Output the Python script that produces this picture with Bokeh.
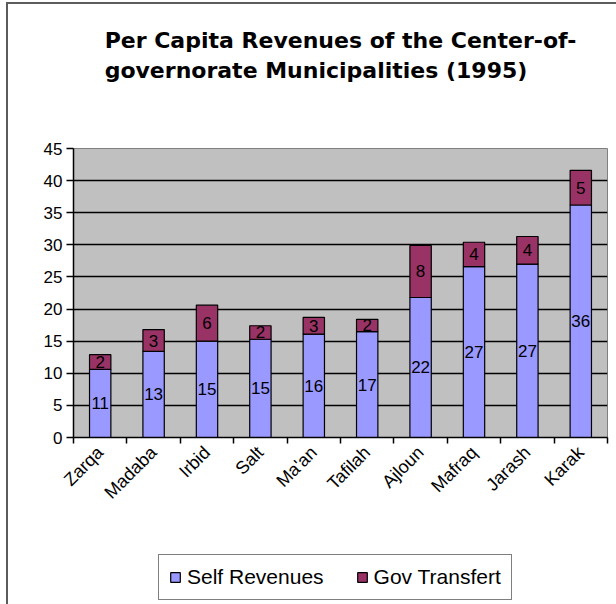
import math
from bokeh.plotting import figure
from bokeh.layouts import column
from bokeh.models import (FixedTicker, Title, Legend, LegendItem, ColumnDataSource)
from bokeh.core.properties import value
from bokeh.embed import file_html
from bokeh.resources import INLINE

categories = ["Zarqa", "Madaba", "Irbid", "Salt", "Ma'an", "Tafilah", "Ajloun", "Mafraq", "Jarash", "Karak"]
self_revenues = [10.6, 13.4, 15.0, 15.3, 16.1, 16.5, 21.8, 26.6, 27.0, 36.2]
gov_transfert = [2.3, 3.4, 5.6, 2.1, 2.6, 1.9, 8.1, 3.8, 4.3, 5.4]
y_ticks = [0, 5, 10, 15, 20, 25, 30, 35, 40, 45]
title_text = "Per Capita Revenues of the Center-of-\ngovernorate Municipalities (1995)"
series_names = ["Self Revenues", "Gov Transfert"]

SELF_COLOR = "#9999FF"
GOV_COLOR = "#993366"

n = len(categories)
xc = [i + 0.5 for i in range(n)]
totals = [a + b for a, b in zip(self_revenues, gov_transfert)]

src = ColumnDataSource(dict(
    x=xc,
    self_top=self_revenues,
    total=totals,
    self_mid=[v / 2 for v in self_revenues],
    gov_mid=[a + b / 2 for a, b in zip(self_revenues, gov_transfert)],
    self_lbl=[str(int(v + 0.5)) for v in self_revenues],
    gov_lbl=[str(int(v + 0.5)) for v in gov_transfert],
))

p = figure(width=608, height=511, x_range=(0, n), y_range=(0, 45),
           output_backend="svg", toolbar_location=None, title=None,
           min_border_left=65, min_border_right=9, min_border_top=144,
           min_border_bottom=78)

p.background_fill_color = "#C0C0C0"
p.border_fill_color = "white"
p.outline_line_color = "#808080"
p.outline_line_width = 1

# empty spacer between title and plot area, then the two-line title
spacer = Title(text=" ", text_font_size="1px", standoff=58)
p.add_layout(spacer, "above")
t = Title(text=title_text, align="center", text_font="DejaVu Sans",
          text_font_style="bold", text_font_size="22px", text_color="black",
          text_line_height=1.2, vertical_align="bottom", standoff=10)
p.add_layout(t, "above")

# bars
r_self = p.vbar(x="x", bottom=0, top="self_top", width=0.4, source=src,
                fill_color=SELF_COLOR, line_color="black", line_width=1.2)
r_gov = p.vbar(x="x", bottom="self_top", top="total", width=0.4, source=src,
               fill_color=GOV_COLOR, line_color="black", line_width=1.2)

# data labels
for ycol, tcol in (("self_mid", "self_lbl"), ("gov_mid", "gov_lbl")):
    p.text(x="x", y=ycol, text=tcol, source=src, text_align="center",
           text_baseline="middle", text_font=value("Liberation Sans"),
           text_font_size="17px", text_color="black")

# grid
p.xgrid.visible = False
p.ygrid.ticker = FixedTicker(ticks=y_ticks[1:-1])
p.ygrid.grid_line_color = "black"
p.ygrid.grid_line_width = 1.5

# y axis
p.yaxis.ticker = FixedTicker(ticks=y_ticks)
p.yaxis.axis_line_color = "black"
p.yaxis.axis_line_width = 1.5
p.yaxis.major_tick_in = 0
p.yaxis.major_tick_out = 7
p.yaxis.major_tick_line_width = 1.5
p.yaxis.major_tick_line_color = "black"
p.yaxis.minor_tick_line_color = None
p.yaxis.major_label_text_font = "Liberation Sans"
p.yaxis.major_label_text_font_size = "17px"
p.yaxis.major_label_text_color = "black"
p.yaxis.major_label_standoff = 4

# x axis: labels at centers, ticks at boundaries
p.xaxis.ticker = FixedTicker(ticks=xc, minor_ticks=list(range(n + 1)))
p.xaxis.major_label_overrides = {x: c for x, c in zip(xc, categories)}
p.xaxis.major_label_orientation = math.pi / 4
p.xaxis.major_tick_in = 0
p.xaxis.major_tick_out = 0
p.xaxis.minor_tick_in = 0
p.xaxis.minor_tick_out = 6
p.xaxis.minor_tick_line_width = 1.5
p.xaxis.minor_tick_line_color = "black"
p.xaxis.axis_line_color = "black"
p.xaxis.axis_line_width = 1.5
p.xaxis.major_label_text_font = "Liberation Sans"
p.xaxis.major_label_text_font_size = "18px"
p.xaxis.major_label_text_color = "black"
p.xaxis.major_label_standoff = 6

# legend strip (separate plot area below the chart); its key glyphs reuse the
# bar data but lie outside this strip's visible range
q = figure(width=608, height=89, x_range=(100, 101), y_range=(100, 101),
           output_backend="svg", toolbar_location=None, title=None,
           x_axis_location=None, y_axis_location=None, min_border=0)
q.grid.visible = False
q.outline_line_color = None
q.background_fill_color = "white"
q.border_fill_color = "white"
k_self = q.vbar(x="x", bottom=0, top="self_top", width=0.4, source=src,
                fill_color=SELF_COLOR, line_color="black", line_width=1.2)
k_gov = q.vbar(x="x", bottom="self_top", top="total", width=0.4, source=src,
               fill_color=GOV_COLOR, line_color="black", line_width=1.2)
legend = Legend(items=[LegendItem(label=series_names[0], renderers=[k_self], index=0),
                       LegendItem(label=series_names[1], renderers=[k_gov], index=0)],
                orientation="horizontal", location=(85, 4),
                border_line_color="black", border_line_width=1.2,
                background_fill_color="white", background_fill_alpha=1,
                label_text_font="Liberation Sans", label_text_font_size="21px",
                label_text_color="black", glyph_width=12, glyph_height=12,
                label_standoff=6, spacing=32, padding=10, margin=0,
                label_height=22)
q.add_layout(legend, "center")

layout = column(p, q, spacing=0)
layout.margin = (2, 0, 0, 6)
layout.styles = {"border-left": "2px solid #5c5c5c", "border-top": "2px solid #5c5c5c"}

open("out.html", "w").write(file_html(layout, INLINE))
